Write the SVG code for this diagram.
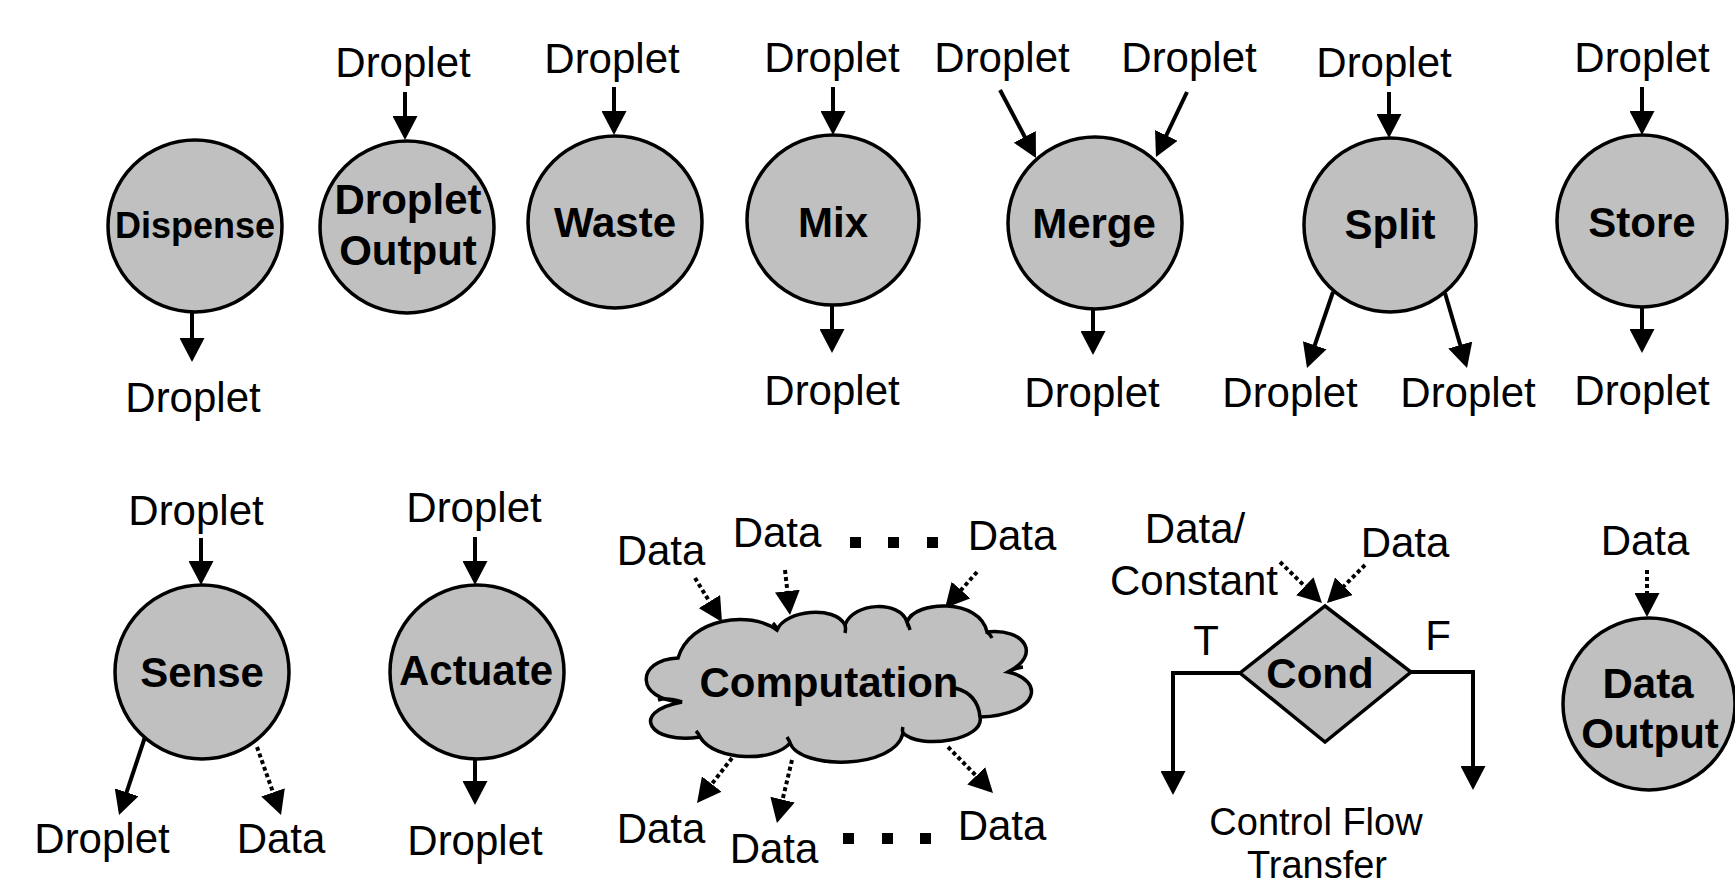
<svg xmlns="http://www.w3.org/2000/svg" width="1735" height="886" viewBox="0 0 1735 886">
<style>
text{font-family:"Liberation Sans",Arial,Helvetica,sans-serif;font-size:42px;text-anchor:middle;fill:#000}
.b{font-weight:bold}
.sm{font-size:38px}
.sh{fill:#c0c0c0;stroke:#000;stroke-width:3.5}
.c{fill:none;stroke:#000;stroke-width:4;marker-end:url(#ah)}
.d{stroke-dasharray:4 3}
.curl{fill:none;stroke:#000;stroke-width:3.5}
</style>
<defs>
<marker id="ah" markerUnits="userSpaceOnUse" markerWidth="24" markerHeight="25" viewBox="0 0 24 25" refX="20" refY="12.5" orient="auto"><path d="M0,0 L24,12.5 L0,25 z" fill="#000"/></marker>
</defs>
<rect width="1735" height="886" fill="#fff"/>

<g id="connectors">
<path class="c" d="M192,312 V358"/>
<path class="c" d="M405,92 V136"/>
<path class="c" d="M614,87 V131"/>
<path class="c" d="M833,87 V131"/>
<path class="c" d="M832,305 V349"/>
<path class="c" d="M1000,90 L1034.1,154.5"/>
<path class="c" d="M1187,92 L1157.7,153.4"/>
<path class="c" d="M1093,309 V351"/>
<path class="c" d="M1389,92 V134"/>
<path class="c" d="M1333,292 L1308.3,364.2"/>
<path class="c" d="M1445,293 L1465.9,364.2"/>
<path class="c" d="M1642,87 V131"/>
<path class="c" d="M1642,307 V349"/>
<path class="c" d="M201,538 V581"/>
<path class="c" d="M145,737 L120.3,811.2"/>
<path class="c d" d="M257,747 L279.7,811.2"/>
<path class="c" d="M475,537 V581"/>
<path class="c" d="M475,758 V801"/>
<path class="c d" d="M695,578 L719.9,618.6"/>
<path class="c d" d="M785,570 L789.6,611"/>
<path class="c d" d="M977,572 L947.7,605"/>
<path class="c d" d="M732,758 L699.5,799.8"/>
<path class="c d" d="M792,760 L777.9,819.1"/>
<path class="c d" d="M948,747 L990.2,790.1"/>
<path class="c d" d="M1280,562 L1319.1,600.2"/>
<path class="c d" d="M1365,565 L1329.8,600.2"/>
<path class="c" d="M1240,673 H1173 V791"/>
<path class="c" d="M1411,672 H1473 V786"/>
<path class="c d" d="M1647,570 V613"/>
</g>

<g id="dispense">
<ellipse class="sh" cx="195" cy="226" rx="87" ry="86"/>
<text class="b" x="195" y="238" style="font-size:36px">Dispense</text>
<text x="193" y="412">Droplet</text>
</g>

<g id="droplet-output">
<ellipse class="sh" cx="407" cy="227" rx="87" ry="86"/>
<text class="b" x="408" y="214">Droplet</text>
<text class="b" x="408" y="265">Output</text>
<text x="403" y="77">Droplet</text>
</g>

<g id="waste">
<ellipse class="sh" cx="615" cy="222" rx="87" ry="86"/>
<text class="b" x="615" y="237">Waste</text>
<text x="612" y="73">Droplet</text>
</g>

<g id="mix">
<ellipse class="sh" cx="833" cy="220" rx="86" ry="85"/>
<text class="b" x="833" y="237">Mix</text>
<text x="832" y="72">Droplet</text>
<text x="832" y="405">Droplet</text>
</g>

<g id="merge">
<ellipse class="sh" cx="1095" cy="223" rx="87" ry="86"/>
<text class="b" x="1094" y="238">Merge</text>
<text x="1002" y="72">Droplet</text>
<text x="1189" y="72">Droplet</text>
<text x="1092" y="407">Droplet</text>
</g>

<g id="split">
<ellipse class="sh" cx="1390" cy="225" rx="86" ry="87"/>
<text class="b" x="1390" y="239">Split</text>
<text x="1384" y="77">Droplet</text>
<text x="1290" y="407">Droplet</text>
<text x="1468" y="407">Droplet</text>
</g>

<g id="store">
<ellipse class="sh" cx="1642" cy="221" rx="85" ry="86"/>
<text class="b" x="1642" y="237">Store</text>
<text x="1642" y="72">Droplet</text>
<text x="1642" y="405">Droplet</text>
</g>

<g id="sense">
<ellipse class="sh" cx="202" cy="672" rx="87" ry="87"/>
<text class="b" x="202" y="687">Sense</text>
<text x="196" y="525">Droplet</text>
<text x="102" y="853">Droplet</text>
<text x="281" y="853">Data</text>
</g>

<g id="actuate">
<ellipse class="sh" cx="477" cy="672" rx="87" ry="87"/>
<text class="b" x="476" y="685">Actuate</text>
<text x="474" y="522">Droplet</text>
<text x="475" y="855">Droplet</text>
</g>

<g id="computation">
<path class="sh" d="M678,658 C690,618 750,610 777,630 C785,610 835,605 845,625 C853,602 900,600 907,622 C915,600 980,598 987,632 C1025,628 1042,655 1008,672 C1045,680 1040,715 980,717 C985,740 920,750 903,733 C895,770 800,770 790,743 C775,762 715,762 700,737 C650,745 628,712 682,702 C635,700 635,660 678,658 Z"/>
<path class="curl" d="M682,702 Q668,697 658,700 M777,630 Q776,626 773,623 M845,625 Q846,629 845,633 M907,622 Q909,626 910,630 M987,632 Q990,634 992,638 M1008,672 Q1015,668 1023,667 M955,688 Q978,694 980,717 M903,733 Q902,730 903,727 M790,743 Q789,740 787,737 M700,737 Q699,734 696,731"/>
<text class="b" x="829" y="697">Computation</text>
<text x="661" y="565">Data</text>
<text x="777" y="547">Data</text>
<text x="1012" y="550">Data</text>
<text x="661" y="843">Data</text>
<text x="774" y="863">Data</text>
<text x="1002" y="840">Data</text>
<rect x="850" y="537" width="11" height="11"/>
<rect x="888" y="537" width="11" height="11"/>
<rect x="927" y="537" width="11" height="11"/>
<rect x="843" y="833" width="11" height="11"/>
<rect x="882" y="833" width="11" height="11"/>
<rect x="920" y="833" width="11" height="11"/>
</g>

<g id="cond">
<polygon class="sh" points="1325,606 1411,672 1325,742 1240,673"/>
<text class="b" x="1320" y="688">Cond</text>
<text x="1195" y="543">Data/</text>
<text x="1194" y="595">Constant</text>
<text x="1405" y="557">Data</text>
<text x="1206" y="655">T</text>
<text x="1438" y="650">F</text>
<text class="sm" x="1316" y="835">Control Flow</text>
<text class="sm" x="1317" y="878">Transfer</text>
</g>

<g id="data-output">
<ellipse class="sh" cx="1649" cy="704" rx="86" ry="86"/>
<text class="b" x="1648" y="698">Data</text>
<text class="b" x="1650" y="748">Output</text>
<text x="1645" y="555">Data</text>
</g>
</svg>
